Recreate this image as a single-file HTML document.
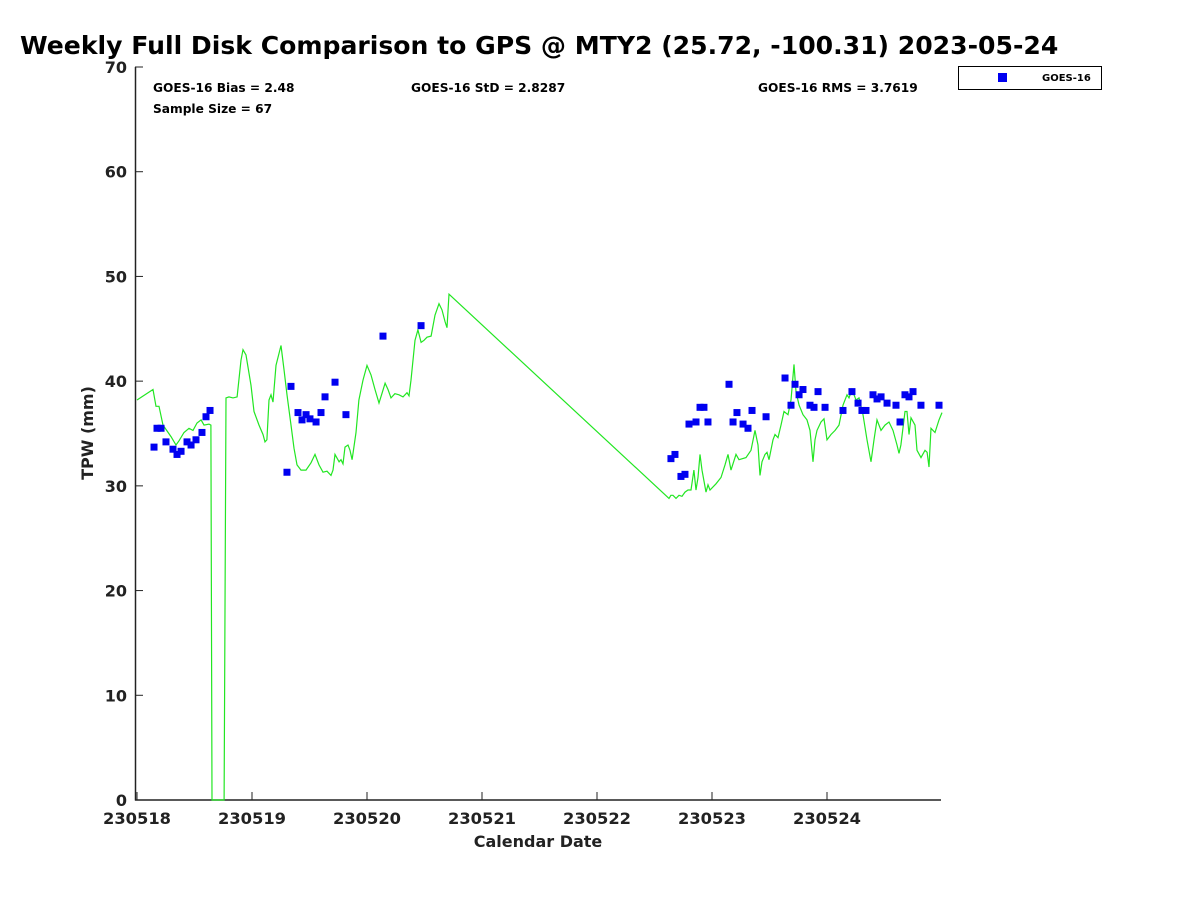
<!DOCTYPE html>
<html><head><meta charset="utf-8"><style>
body{margin:0;background:#fff;}
svg{display:block;font-family:"DejaVu Sans","Liberation Sans",sans-serif;font-weight:bold;}
</style></head><body>
<svg id="chart" width="1200" height="900" viewBox="0 0 1200 900">
<text x="20" y="54" font-size="25.1" fill="#000">Weekly Full Disk Comparison to GPS @ MTY2 (25.72, -100.31) 2023-05-24</text>
<text x="153" y="92" font-size="12.2">GOES-16 Bias = 2.48</text>
<text x="153" y="113" font-size="12.2">Sample Size = 67</text>
<text x="411" y="92" font-size="12.2">GOES-16 StD = 2.8287</text>
<text x="758" y="92" font-size="12.2">GOES-16 RMS = 3.7619</text>
<g>
<rect x="958.5" y="66.5" width="143" height="23" fill="#fff" stroke="#000"/>
<rect x="998" y="73" width="9" height="9" fill="#0000f0"/>
<text x="1042" y="81" font-size="10">GOES-16</text>
</g>
<text transform="translate(93,433) rotate(-90)" text-anchor="middle" font-size="16" fill="#222">TPW (mm)</text>
<text x="538" y="847" text-anchor="middle" font-size="16" fill="#222">Calendar Date</text>
<g id="axes"></g>
<g id="marks"></g>
</svg>
<script>
const xTickLabels=["230518","230519","230520","230521","230522","230523","230524"];
const yTicks=[0,10,20,30,40,50,60,70];
const gpsDays=[0,.139,.165,.191,.226,.296,.339,.365,.409,.452,.487,.522,.557,.583,.626,.643,.652,.757,.774,.8,.835,.87,.904,.922,.948,.991,1.017,1.061,1.096,1.113,1.13,1.148,1.165,1.183,1.209,1.252,1.278,1.304,1.339,1.365,1.391,1.426,1.47,1.513,1.548,1.583,1.617,1.652,1.687,1.704,1.722,1.757,1.774,1.791,1.809,1.835,1.852,1.87,1.904,1.93,1.965,2.0,2.035,2.07,2.104,2.13,2.157,2.183,2.209,2.243,2.278,2.313,2.348,2.365,2.383,2.417,2.443,2.47,2.496,2.522,2.557,2.591,2.626,2.652,2.678,2.696,2.713,4.626,4.643,4.661,4.687,4.713,4.739,4.765,4.791,4.817,4.843,4.861,4.878,4.896,4.913,4.948,4.965,4.983,5.035,5.078,5.113,5.139,5.165,5.209,5.235,5.296,5.339,5.374,5.4,5.417,5.435,5.461,5.478,5.496,5.53,5.548,5.574,5.6,5.626,5.661,5.687,5.713,5.73,5.757,5.791,5.826,5.852,5.878,5.896,5.913,5.948,5.974,6.0,6.035,6.07,6.104,6.139,6.174,6.191,6.217,6.252,6.278,6.313,6.348,6.383,6.409,6.435,6.47,6.504,6.539,6.574,6.609,6.626,6.643,6.678,6.696,6.713,6.73,6.765,6.783,6.817,6.852,6.87,6.887,6.904,6.939,6.974,7.0];
const gpsTpw=[38.2,39.2,37.6,37.6,35.8,34.7,33.9,34.3,35.1,35.5,35.3,36.0,36.3,35.8,35.9,35.8,0,0,38.4,38.5,38.4,38.5,42.0,43.0,42.5,39.6,37.1,35.8,34.9,34.2,34.4,38.2,38.7,38.0,41.5,43.4,41.1,38.7,35.8,33.6,32.0,31.5,31.5,32.2,33.0,32.0,31.3,31.4,31.0,31.5,33.0,32.3,32.5,32.1,33.7,33.9,33.4,32.5,35.1,38.2,40.1,41.5,40.6,39.2,37.9,38.8,39.8,39.2,38.4,38.8,38.7,38.5,38.9,38.6,40.1,43.9,44.9,43.7,43.9,44.2,44.3,46.3,47.4,46.8,45.7,45.1,48.3,28.8,29.1,29.1,28.8,29.1,29.0,29.4,29.6,29.6,31.5,29.6,30.8,33.0,31.5,29.4,30.1,29.6,30.2,30.8,32.0,33.0,31.5,33.0,32.5,32.7,33.4,35.3,33.9,31.0,32.3,33.0,33.2,32.5,34.4,34.9,34.6,35.8,37.1,36.8,38.2,41.6,39.0,37.7,36.8,36.3,35.3,32.3,34.4,35.3,36.1,36.4,34.4,34.9,35.3,35.8,37.7,38.7,38.4,39.2,38.2,38.4,36.8,34.4,32.3,34.4,36.3,35.3,35.8,36.1,35.3,33.9,33.1,33.9,37.1,37.1,34.9,36.5,35.8,33.4,32.7,33.4,33.2,31.8,35.5,35.1,36.3,37.0];
const goesDays=[.148,.174,.209,.252,.313,.348,.383,.435,.47,.513,.565,.6,.635,1.304,1.339,1.4,1.435,1.47,1.504,1.557,1.6,1.635,1.722,1.817,2.139,2.47,4.643,4.678,4.73,4.765,4.8,4.861,4.896,4.93,4.965,5.148,5.183,5.217,5.27,5.313,5.348,5.47,5.635,5.687,5.722,5.757,5.791,5.852,5.887,5.922,5.983,6.139,6.217,6.27,6.304,6.339,6.4,6.435,6.47,6.522,6.6,6.635,6.678,6.713,6.748,6.817,6.974];
const goesTpw=[33.7,35.5,35.5,34.2,33.5,33.0,33.3,34.2,33.9,34.4,35.1,36.6,37.2,31.3,39.5,37.0,36.3,36.8,36.4,36.1,37.0,38.5,39.9,36.8,44.3,45.3,32.6,33.0,30.9,31.1,35.9,36.1,37.5,37.5,36.1,39.7,36.1,37.0,35.9,35.5,37.2,36.6,40.3,37.7,39.7,38.7,39.2,37.7,37.5,39.0,37.5,37.2,39.0,37.9,37.2,37.2,38.7,38.3,38.5,37.9,37.7,36.1,38.7,38.5,39.0,37.7,37.7];
const NS="http://www.w3.org/2000/svg";
const X=d=>137+d*115, Y=v=>800-v*(733/70);
function mk(tag,attrs,parent){const e=document.createElementNS(NS,tag);for(const k in attrs)e.setAttribute(k,attrs[k]);parent.appendChild(e);return e;}
const axes=document.getElementById('axes'), marks=document.getElementById('marks');
let e=mk('line',{x1:135.5,y1:67,x2:135.5,y2:800.5,stroke:'#222','stroke-width':1.5},axes);


e=mk('line',{x1:135,y1:800,x2:941,y2:800,stroke:'#222','stroke-width':1.5},axes);


yTicks.forEach(v=>{
 const t=mk('line',{x1:135,x2:143,y1:Y(v),y2:Y(v),stroke:'#222'},axes);
 
 
 const l=mk('text',{x:127,y:Y(v)+6,'text-anchor':'end','font-size':16,fill:'#222'},axes);
 l.textContent=v;
 
 
});
xTickLabels.forEach((s,i)=>{
 const t=mk('line',{x1:X(i),x2:X(i),y1:800,y2:792,stroke:'#222'},axes);
 
 
 const l=mk('text',{x:X(i),y:824,'text-anchor':'middle','font-size':16.3,fill:'#222'},axes);
 l.textContent=s;
 
 
});
const pts=gpsDays.map((d,i)=>X(d).toFixed(1)+','+Y(gpsTpw[i]).toFixed(1)).join(' ');
const line=mk('polyline',{points:pts,fill:'none',stroke:'#22e622','stroke-width':1.2},marks);


goesDays.forEach((d,i)=>{
 const r=mk('rect',{x:X(d)-3.5,y:Y(goesTpw[i])-3.5,width:7,height:7,fill:'#0000f0'},marks);
 
 
});
</script>
</body></html>
